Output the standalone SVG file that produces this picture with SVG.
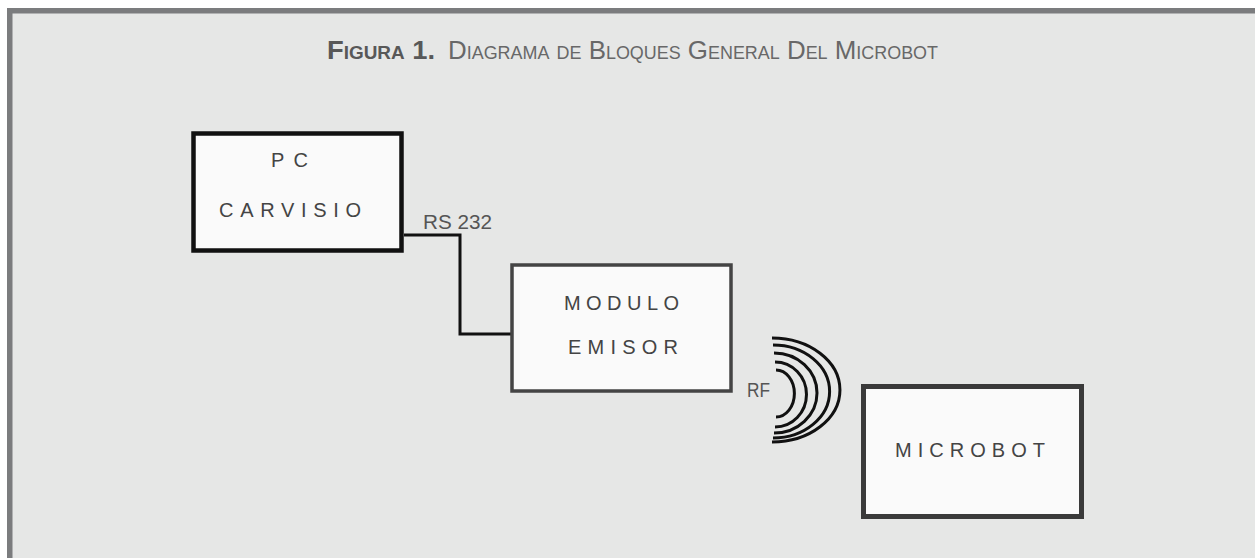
<svg xmlns="http://www.w3.org/2000/svg" width="1255" height="558" viewBox="0 0 1255 558">
<style>
.box{fill:#fafafa}
.lbl{font-family:"Liberation Sans",Arial,sans-serif;font-size:20px;fill:#444444}
.side{font-family:"Liberation Sans",Arial,sans-serif;font-size:20px;fill:#555555}
.edge{fill:none;stroke:#111;stroke-width:3}
.wave{fill:none;stroke:#111;stroke-width:3}
.title{font-family:"Liberation Sans Narrow","Liberation Sans",Arial,sans-serif;font-size:26px;font-variant:small-caps;fill:#686868}
</style>
<rect x="0" y="0" width="1255" height="558" fill="#ffffff"/>
<rect x="7" y="8" width="1248" height="550" fill="#e6e7e6"/>
<rect x="7" y="8" width="1248" height="5.5" fill="#7b7c7e"/>
<rect x="7" y="8" width="5.5" height="550" fill="#7b7c7e"/>
<text class="title" y="59"><tspan x="327" textLength="108" lengthAdjust="spacingAndGlyphs" font-weight="bold" fill="#585858">Figura 1.</tspan><tspan x="448" textLength="490" lengthAdjust="spacingAndGlyphs">Diagrama de Bloques General Del Microbot</tspan></text>
<g id="connectors">
<polyline class="edge" points="404,235 460,235 460,334 511,334"/>
<text class="side" x="423" y="229" textLength="69" lengthAdjust="spacingAndGlyphs">RS 232</text>
</g>
<g id="pc">
<rect class="box" x="193.5" y="133.5" width="208" height="117" stroke="#111" stroke-width="4.5"/>
<text class="lbl" x="271" y="167" textLength="37" lengthAdjust="spacing">PC</text>
<text class="lbl" x="219" y="217" textLength="142" lengthAdjust="spacing">CARVISIO</text>
</g>
<g id="modulo">
<rect class="box" x="512" y="265" width="219" height="126" stroke="#444" stroke-width="3.5"/>
<text class="lbl" x="564" y="310" textLength="115" lengthAdjust="spacing">MODULO</text>
<text class="lbl" x="568" y="354" textLength="110" lengthAdjust="spacing">EMISOR</text>
</g>
<g id="rf">
<path class="wave" d="M772,338 A68,52 0 0 1 772,442"/>
<path class="wave" d="M773,345 A56,46 0 0 1 773,438"/>
<path class="wave" d="M774,353 A43,40 0 0 1 774,433"/>
<path class="wave" d="M775,362 A31,32 0 0 1 775,427"/>
<path class="wave" d="M776,370 A18,23 0 0 1 776,417"/>
<text class="side" x="747" y="397" textLength="23" lengthAdjust="spacingAndGlyphs">RF</text>
</g>
<g id="microbot">
<rect class="box" x="863.5" y="386.5" width="218" height="130" stroke="#3a3a3a" stroke-width="5"/>
<text class="lbl" x="895" y="457" textLength="150" lengthAdjust="spacing">MICROBOT</text>
</g>
</svg>
